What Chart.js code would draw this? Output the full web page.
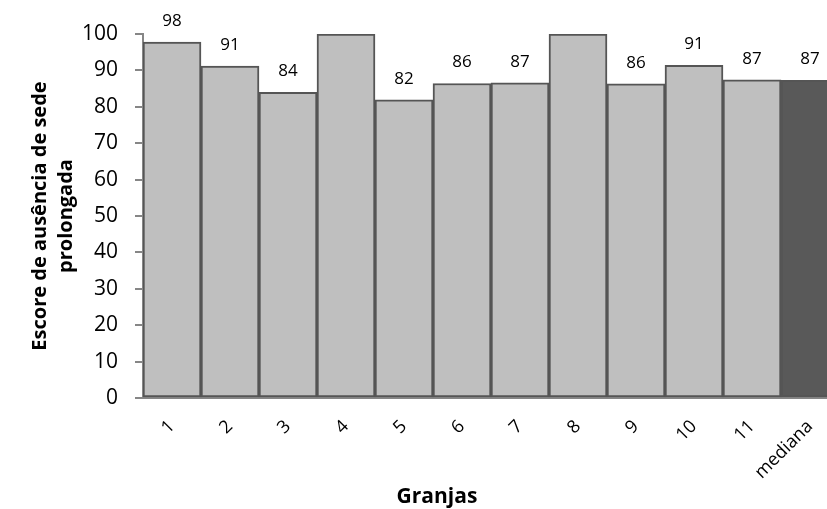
<!DOCTYPE html>
<html>
<head>
<meta charset="utf-8">
<script src="https://cdn.jsdelivr.net/npm/chart.js@4"></script>
<style>
html,body{margin:0;padding:0;overflow:hidden;background:#fff;}
#wrap{width:840px;height:509px;}
</style>
</head>
<body>
<div id="wrap"><canvas id="c" width="840" height="509"></canvas></div>
<script>
const categories = ['1','2','3','4','5','6','7','8','9','10','11','mediana'];
const scores = [97.8, 91.2, 84.0, 100, 81.9, 86.4, 86.6, 100, 86.3, 91.4, 87.4, 87.3];
const valueLabels = ['98','91','84','','82','86','87','','86','91','87','87'];
const yTicks = [0,10,20,30,40,50,60,70,80,90,100];

const fills = categories.map(c => c === 'mediana' ? '#595959' : '#BFBFBF');

const labelPlugin = {
  id: 'valueLabels',
  afterDatasetsDraw(chart) {
    const ctx = chart.ctx;
    const meta = chart.getDatasetMeta(0);
    ctx.save();
    ctx.font = '17px "Open Sans"';
    ctx.fillStyle = '#000';
    ctx.textAlign = 'center';
    ctx.textBaseline = 'middle';
    meta.data.forEach((el, i) => {
      if (valueLabels[i]) ctx.fillText(valueLabels[i], el.x, el.y - 21);
    });
    ctx.restore();
  }
};

const xTitlePlugin = {
  id: 'xTitle',
  afterDraw(chart) {
    const ctx = chart.ctx;
    ctx.save();
    ctx.font = 'bold 21px "Open Sans"';
    ctx.fillStyle = '#000';
    ctx.textAlign = 'center';
    ctx.textBaseline = 'middle';
    ctx.fillText('Granjas', 437, 497);
    ctx.restore();
  }
};

new Chart(document.getElementById('c'), {
  type: 'bar',
  data: {
    labels: categories,
    datasets: [{
      data: scores,
      backgroundColor: fills,
      borderColor: '#555555',
      borderWidth: 2,
      borderSkipped: false,
      barPercentage: 1,
      categoryPercentage: 1
    }]
  },
  options: {
    responsive: false,
    animation: false,
    layout: { padding: { top: 34, right: 1, left: 0, bottom: 0 } },
    plugins: { legend: { display: false }, tooltip: { enabled: false } },
    scales: {
      x: {
        grid: { display: false },
        border: { color: '#868686', width: 2 },
        ticks: {
          font: { family: 'Open Sans', size: 18 },
          color: '#000',
          minRotation: 45,
          maxRotation: 45,
          padding: 10
        },
        afterFit: s => { s.height = 111; }
      },
      y: {
        min: 0,
        max: 100,
        afterBuildTicks: s => { s.ticks = yTicks.map(v => ({ value: v })); },
        grid: { drawOnChartArea: false, tickLength: 8, color: '#868686', lineWidth: 2 },
        border: { color: '#868686', width: 2 },
        ticks: {
          font: { family: 'Open Sans', size: 21 },
          color: '#000',
          padding: 17
        },
        title: {
          display: true,
          text: ['Escore de ausência de sede', 'prolongada'],
          font: { family: 'Open Sans', size: 20, weight: 'bold', lineHeight: 1.3 },
          color: '#000',
          padding: { top: 27, bottom: 0 }
        },
        afterFit: s => { s.width = 143; }
      }
    }
  },
  plugins: [labelPlugin, xTitlePlugin]
});
</script>
</body>
</html>
